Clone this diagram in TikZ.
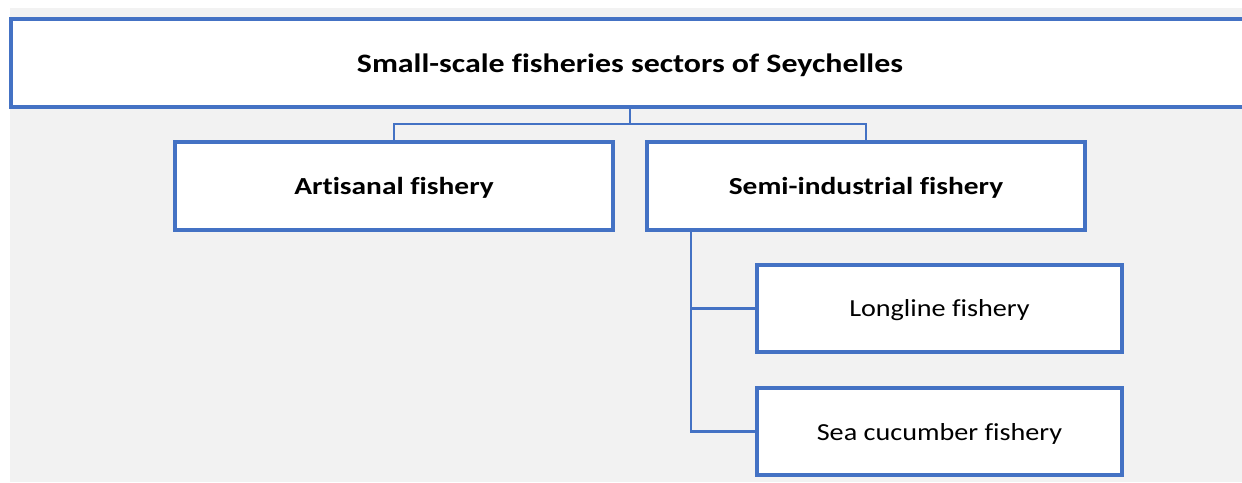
\documentclass[tikz,border=0pt]{standalone}
\usepackage{fontspec}
\setmainfont{Carlito}[Ligatures=NoCommon]
\newfontfamily\boldwide{Carlito Bold}[FakeStretch=1.2, Ligatures=NoCommon]
\newfontfamily\regwide{Carlito}[FakeStretch=1.15, Ligatures=NoCommon]
\definecolor{boxblue}{HTML}{4472C4}
\definecolor{bg}{HTML}{F2F2F2}
\tikzset{
  box/.style={draw=boxblue, line width=4pt, fill=white, inner sep=0pt, outer sep=0pt, anchor=north west},
  link/.style={draw=boxblue, line width=2.2pt},
  bigtxt/.style={font=\fontsize{26.6}{30}\boldwide, yshift=-2pt},
  midtxt/.style={font=\fontsize{24.5}{28}\boldwide, yshift=-1.5pt},
  smalltxt/.style={font=\fontsize{24.5}{28}\regwide, yshift=-2pt},
}
\begin{document}
\begin{tikzpicture}[x=1pt,y=-1pt]
\useasboundingbox (0,0) rectangle (1242,482);
\fill[white] (0,0) rectangle (1242,482);
\fill[bg] (10,8) rectangle (1242,482);
% top box (extends off the right edge)
\node[box, minimum width=1260pt, minimum height=88pt] (top) at (10.5,19) {};
\node[bigtxt] (toptxt) at (630,63) {Small-scale fisheries sectors of Seychelles};
\node[box, minimum width=438pt, minimum height=88pt] (art) at (175,142) {};
\node[midtxt] at (art.center) {Artisanal fishery};
\node[box, minimum width=438pt, minimum height=88pt] (semi) at (647,142) {};
\node[midtxt] at (semi.center) {Semi-industrial fishery};
\node[box, minimum width=365pt, minimum height=87pt] (long) at (757,265) {};
\node[smalltxt] at (long.center) {Longline fishery};
\node[box, minimum width=365pt, minimum height=87pt] (sea) at (757,388) {};
\node[smalltxt] at (sea.center) {Sea cucumber fishery};
% connectors
\coordinate (tb) at (630,107);
\coordinate (jn) at (630,124);
\draw[link] (tb) -- (jn);
\draw[link] (art.north) |- (jn) -| (semi.north);
\coordinate (st) at (691,230);
\draw[link] (st) |- (long.west);
\draw[link] (st) |- (sea.west);
\end{tikzpicture}
\end{document}
